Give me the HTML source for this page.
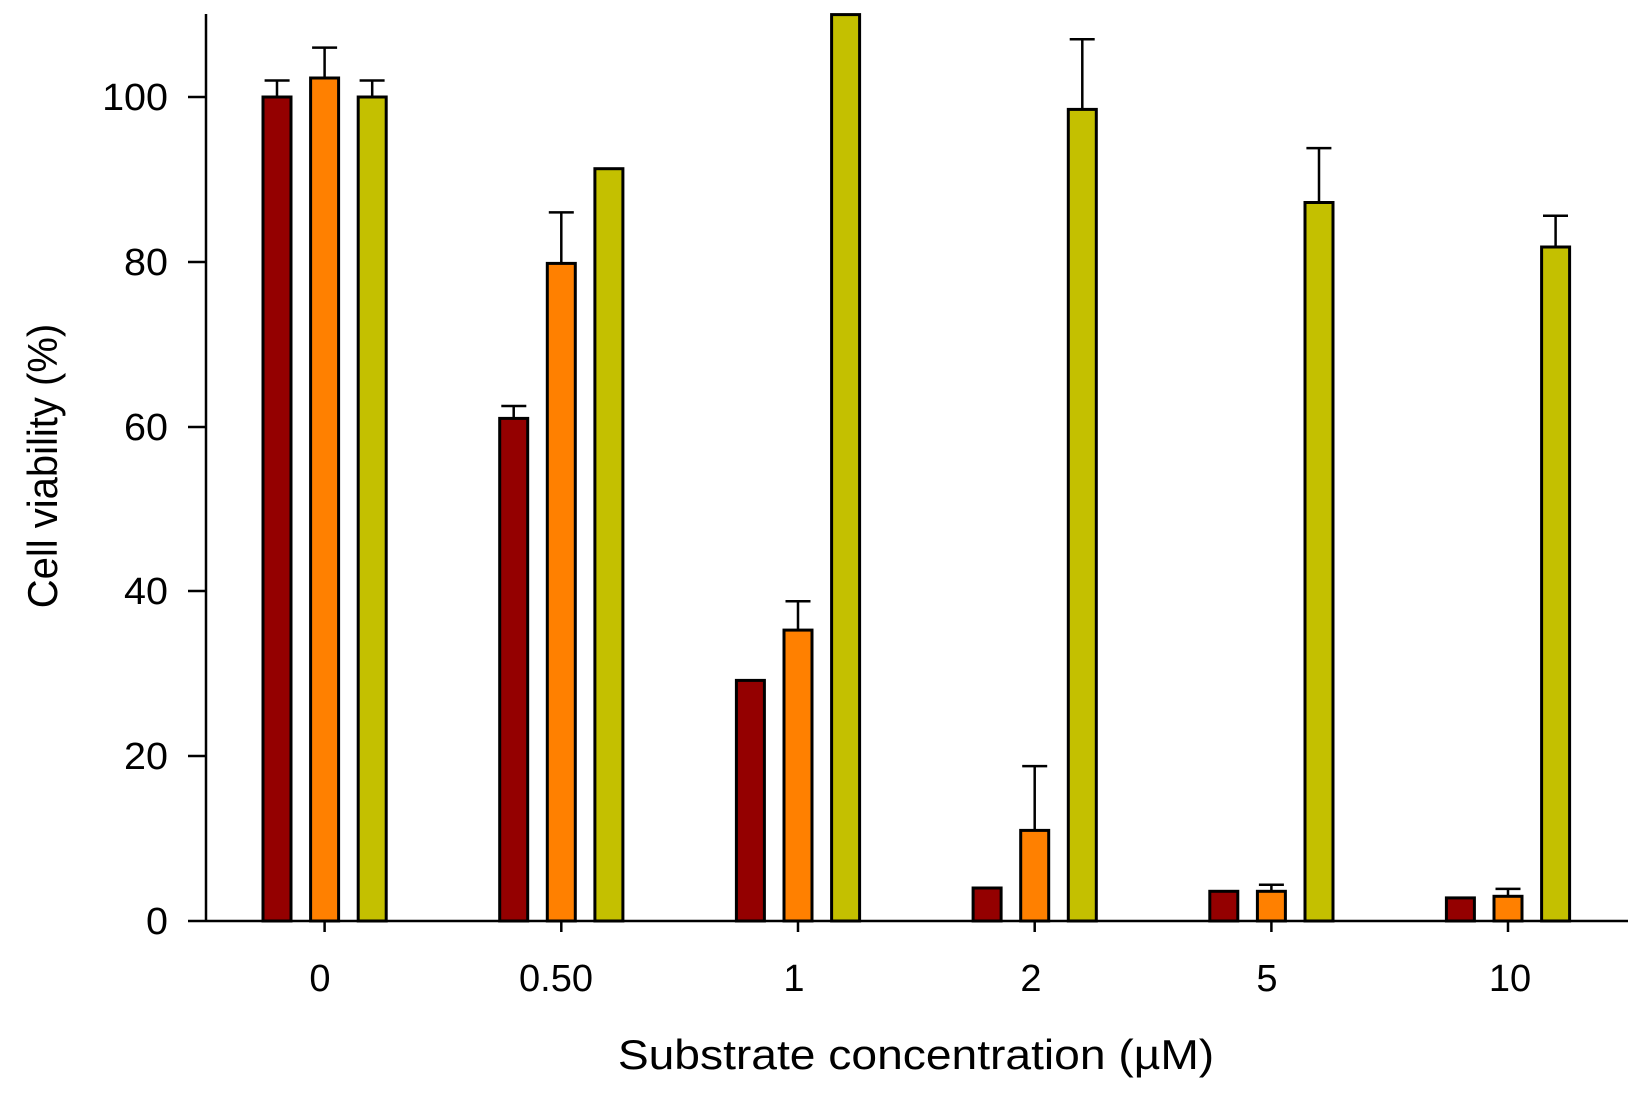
<!DOCTYPE html>
<html><head><meta charset="utf-8"><style>html,body{margin:0;padding:0;background:#fff}svg{display:block}</style></head>
<body>
<svg width="1642" height="1094" viewBox="0 0 1642 1094" xmlns="http://www.w3.org/2000/svg" font-family="Liberation Sans, sans-serif">
<defs>
<style>.r{fill:#940000;stroke:#000;stroke-width:3}.o{fill:#ff8000;stroke:#000;stroke-width:3}.y{fill:#c4c000;stroke:#000;stroke-width:3}.e{stroke:#000;stroke-width:2.5;fill:none}</style>
</defs>
<line x1="206" y1="14" x2="206" y2="922" stroke="#000" stroke-width="2.5"/>
<line x1="188" y1="921" x2="1628" y2="921" stroke="#000" stroke-width="2.5"/>
<g stroke="#000" stroke-width="2.5">
<line x1="188" y1="97" x2="206" y2="97"/><line x1="188" y1="262" x2="206" y2="262"/><line x1="188" y1="427" x2="206" y2="427"/><line x1="188" y1="591" x2="206" y2="591"/><line x1="188" y1="756" x2="206" y2="756"/>
<line x1="324.6" y1="921" x2="324.6" y2="932"/><line x1="561.3" y1="921" x2="561.3" y2="932"/><line x1="798" y1="921" x2="798" y2="932"/><line x1="1034.7" y1="921" x2="1034.7" y2="932"/><line x1="1271.4" y1="921" x2="1271.4" y2="932"/><line x1="1508" y1="921" x2="1508" y2="932"/>
</g>
<g font-size="38" text-anchor="end" fill="#000">
<text transform="translate(168,110) scale(1.04,1)">100</text><text transform="translate(168,275) scale(1.04,1)">80</text><text transform="translate(168,440) scale(1.04,1)">60</text><text transform="translate(168,604) scale(1.04,1)">40</text><text transform="translate(168,769) scale(1.04,1)">20</text><text transform="translate(168,934) scale(1.04,1)">0</text>
</g>
<g font-size="38" text-anchor="middle" fill="#000">
<text x="320" y="991">0</text><text x="556" y="991">0.50</text><text x="794" y="991">1</text><text x="1031" y="991">2</text><text x="1267" y="991">5</text><text x="1510" y="991">10</text>
</g>
<text transform="translate(916,1069) scale(1.1,1)" font-size="42" text-anchor="middle">Substrate concentration (µM)</text>
<text transform="translate(57,466) rotate(-90) scale(1,1.05)" font-size="40" text-anchor="middle">Cell viability (%)</text>

<g transform="translate(324.6,0)">
<path class="e" d="M-47.6 97V80.5M-60 80.5H-35M0 78V47.6M-12.5 47.6H12.5M47.6 97V80.5M35 80.5H60"/>
<rect class="r" x="-61.6" y="97" width="28" height="824"/>
<rect class="o" x="-14" y="78" width="28" height="843"/>
<rect class="y" x="33.6" y="97" width="28" height="824"/>
</g>
<g transform="translate(561.3,0)">
<path class="e" d="M-47.6 418V406M-60 406H-35M0 263V212.4M-12.5 212.4H12.5"/>
<rect class="r" x="-61.6" y="418.4" width="28" height="502.6"/>
<rect class="o" x="-14" y="263.4" width="28" height="657.6"/>
<rect class="y" x="33.6" y="168.7" width="28" height="752.3"/>
</g>
<g transform="translate(798,0)">
<path class="e" d="M0 630V601.3M-12.5 601.3H12.5"/>
<rect class="r" x="-61.6" y="680.4" width="28" height="240.6"/>
<rect class="o" x="-14" y="630.1" width="28" height="290.9"/>
<rect class="y" x="33.6" y="14.6" width="28" height="906.4"/>
</g>
<g transform="translate(1034.7,0)">
<path class="e" d="M0 830V766.1M-12.5 766.1H12.5M47.6 109V39.3M35 39.3H60"/>
<rect class="r" x="-61.6" y="888" width="28" height="33"/>
<rect class="o" x="-14" y="830.4" width="28" height="90.6"/>
<rect class="y" x="33.6" y="109.4" width="28" height="811.6"/>
</g>
<g transform="translate(1271.4,0)">
<path class="e" d="M0 891V884.7M-12.5 884.7H12.5M47.6 202V148.1M35 148.1H60"/>
<rect class="r" x="-61.6" y="891.3" width="28" height="29.7"/>
<rect class="o" x="-14" y="891.3" width="28" height="29.7"/>
<rect class="y" x="33.6" y="202.5" width="28" height="718.5"/>
</g>
<g transform="translate(1508,0)">
<path class="e" d="M0 896V888.9M-12.5 888.9H12.5M47.6 247V215.7M35 215.7H60"/>
<rect class="r" x="-61.6" y="897.9" width="28" height="23.1"/>
<rect class="o" x="-14" y="896.3" width="28" height="24.7"/>
<rect class="y" x="33.6" y="247" width="28" height="674"/>
</g>
</svg>
</body></html>
